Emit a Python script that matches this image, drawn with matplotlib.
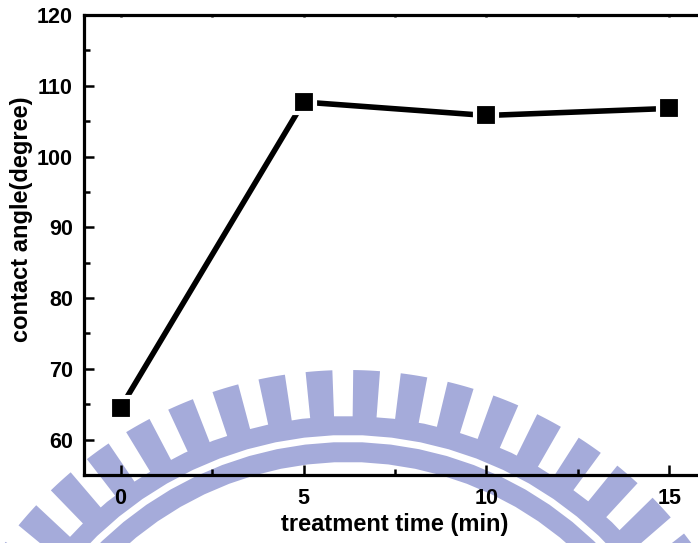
"""Contact angle versus plasma treatment time."""
import matplotlib.pyplot as plt
from matplotlib.patches import Polygon
from matplotlib.ticker import MultipleLocator
import numpy as np

plt.rcParams['font.family'] = ['Liberation Sans', 'DejaVu Sans']
plt.rcParams['font.weight'] = 'bold'

# treatment time (min) and measured contact angle (degree)
time_min = [0, 5, 10, 15]
contact_angle = [64.5, 107.7, 105.8, 106.8]

x_ticks = [0, 5, 10, 15]
y_ticks = [60, 70, 80, 90, 100, 110, 120]

W, H = 698, 543
fig = plt.figure(figsize=(W / 100, H / 100), dpi=100)
fig.patch.set_facecolor('white')

# background emblem, laid out in pixel units
bg = fig.add_axes([0, 0, 1, 1], zorder=0)
bg.set_xlim(0, W)
bg.set_ylim(H, 0)
bg.axis('off')

mark = '#A5ABDA'
cx, cy = 348, 797


def ring_piece(t1, t2, r1, r2):
    t = np.radians(np.linspace(t1, t2, 40))
    outer = np.column_stack([cx + r2 * np.cos(t), cy - r2 * np.sin(t)])
    inner = np.column_stack([cx + r1 * np.cos(t[::-1]), cy - r1 * np.sin(t[::-1])])
    return Polygon(np.vstack([outer, inner]), closed=True,
                   facecolor=mark, edgecolor='none')


for k in range(-16, 17):
    c = 87.5 + 6.4 * k
    bg.add_patch(ring_piece(c - 1.8, c + 1.8, 378, 427))
bg.add_patch(ring_piece(0, 180, 362, 381))
bg.add_patch(ring_piece(0, 180, 335, 355))

# main plot
ax = fig.add_axes([84 / W, 68 / H, 622 / W, 460 / H], zorder=1)
ax.patch.set_alpha(0)

ax.plot(time_min, contact_angle, color='black', lw=4,
        solid_capstyle='round', zorder=3)
ax.plot(time_min, contact_angle, linestyle='none', marker='s',
        markersize=15.5, markerfacecolor='black', markeredgecolor='white',
        markeredgewidth=3, zorder=4)

ax.set_xlim(-1, 16)
ax.set_ylim(55, 120)
ax.set_xticks(x_ticks)
ax.set_yticks(y_ticks)
ax.xaxis.set_minor_locator(MultipleLocator(2.5))
ax.yaxis.set_minor_locator(MultipleLocator(5))

for s in ax.spines.values():
    s.set_linewidth(2.3)

ax.tick_params(which='major', direction='in', length=7, width=1.8,
               labelsize=15.5)
ax.tick_params(which='minor', direction='in', length=4, width=1.8)
ax.tick_params(axis='x', which='both', top=True)
ax.tick_params(axis='x', which='major', pad=9)
ax.tick_params(axis='y', which='major', pad=8)
for t in ax.xaxis.get_major_ticks() + ax.xaxis.get_minor_ticks():
    t.tick2line.set_markersize(1.5)

for lbl in ax.get_xticklabels() + ax.get_yticklabels():
    lbl.set_fontweight('bold')

ax.set_xlabel('treatment time (min)', fontsize=17, fontweight='bold')
ax.set_ylabel('contact angle(degree)', fontsize=17, fontweight='bold')
ax.xaxis.set_label_coords(0.5, -0.083)
ax.yaxis.set_label_coords(-0.082, 0.555)

fig.savefig('out.png', dpi=100)
